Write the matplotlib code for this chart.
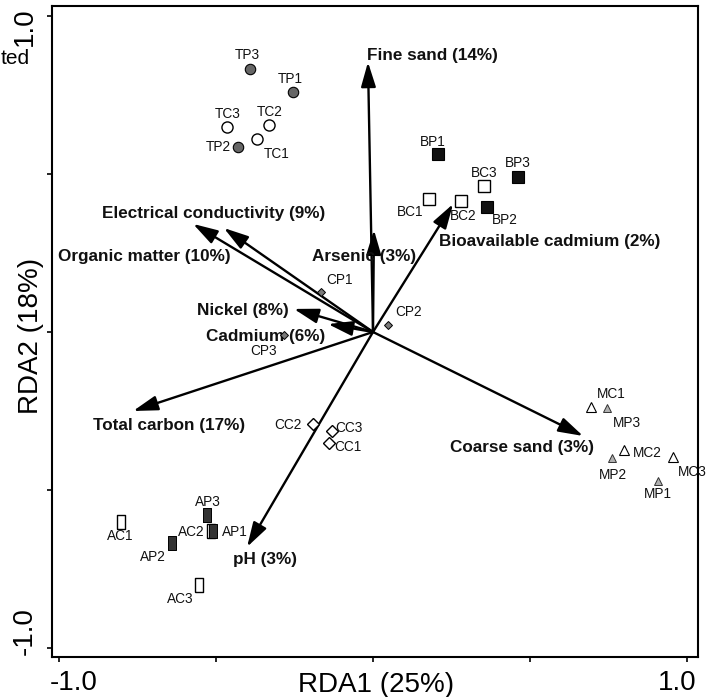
import matplotlib
matplotlib.use("Agg")
import matplotlib.pyplot as plt
from matplotlib.transforms import ScaledTranslation

plt.rcParams['font.family'] = ['Liberation Sans', 'DejaVu Sans']

# ---------------- data ----------------
# environmental variables (biplot arrows)
env_labels = ["Fine sand (14%)", "Arsenic (3%)", "Bioavailable cadmium (2%)",
              "Electrical conductivity (9%)", "Organic matter (10%)", "Nickel (8%)",
              "Cadmium (6%)", "Total carbon (17%)", "pH (3%)", "Coarse sand (3%)"]
env_rda1 = [-0.016, 0.003, 0.255, -0.475, -0.573, -0.252, -0.143, -0.764, -0.401, 0.669]
env_rda2 = [0.854, 0.323, 0.405, 0.329, 0.342, 0.073, 0.025, -0.250, -0.680, -0.329]

# samples (site scores)
site_names = ["TP3", "TP1", "TP2", "TC3", "TC2", "TC1",
              "BP1", "BP3", "BP2", "BC3", "BC1", "BC2",
              "CP1", "CP2", "CP3", "CC2", "CC3", "CC1",
              "MP3", "MP2", "MP1", "MC1", "MC2", "MC3",
              "AC2", "AP3", "AP1", "AP2", "AC1", "AC3"]
site_rda1 = [-0.392, -0.255, -0.430, -0.465, -0.331, -0.369,
             0.207, 0.462, 0.363, 0.354, 0.178, 0.280,
             -0.166, 0.048, -0.283, -0.191, -0.131, -0.140,
             0.745, 0.761, 0.908, 0.694, 0.799, 0.955,
             -0.516, -0.529, -0.510, -0.640, -0.803, -0.554]
site_rda2 = [0.832, 0.759, 0.585, 0.649, 0.655, 0.611,
             0.563, 0.491, 0.396, 0.462, 0.421, 0.415,
             0.127, 0.022, -0.009, -0.291, -0.313, -0.351,
             -0.241, -0.399, -0.472, -0.237, -0.373, -0.396,
             -0.630, -0.579, -0.630, -0.668, -0.601, -0.801]

x_ticks = [-1.0, -0.5, 0.0, 0.5, 1.0]
x_tick_labels = ["-1.0", "", "", "", "1.0"]
y_ticks = [-1.0, -0.5, 0.0, 0.5, 1.0]
y_tick_labels = ["-1.0", "", "", "", "1.0"]
x_title = "RDA1 (25%)"
y_title = "RDA2 (18%)"

# ---------------- layout / style ----------------
narrow_rect = [(-0.27, -0.5), (0.27, -0.5), (0.27, 0.5), (-0.27, 0.5), (-0.27, -0.5)]
group_style = {
    "TP": dict(marker="o", ms=7.5, mfc="#666666", mec="black", mew=0.8),
    "TC": dict(marker="o", ms=8.0, mfc="white", mec="black", mew=1.0),
    "BP": dict(marker="s", ms=8.0, mfc="#111111", mec="black", mew=0.8),
    "BC": dict(marker="s", ms=8.5, mfc="white", mec="black", mew=1.0),
    "CP": dict(marker="D", ms=4.5, mfc="#7a7a7a", mec="black", mew=0.7),
    "CC": dict(marker="D", ms=6.3, mfc="white", mec="black", mew=1.0),
    "MP": dict(marker="^", ms=6.0, mfc="#b0b0b0", mec="#333333", mew=0.7),
    "MC": dict(marker="^", ms=6.5, mfc="white", mec="black", mew=0.8),
    "AP": dict(marker=narrow_rect, ms=9.4, mfc="#333333", mec="black", mew=0.7),
    "AC": dict(marker=narrow_rect, ms=9.6, mfc="white", mec="black", mew=1.0),
}
# label offsets in pixels (dx right, dy up)
site_label_offset = {
    "TP3": (-3, 14), "TP1": (-3, 13), "TP2": (-20, 0), "TC3": (1, 13), "TC2": (1, 13),
    "TC1": (19, -15), "BP1": (-5, 12), "BP3": (0, 14), "BP2": (18, -13), "BC3": (0, 13),
    "BC1": (-19, -13), "BC2": (2, -15), "CP1": (19, 12), "CP2": (20, 13), "CP3": (-21, -16),
    "CC2": (-25, -1), "CC3": (17, 3), "CC1": (19, -4), "MP3": (20, -15), "MP2": (1, -17),
    "MP1": (0, -13), "MC1": (20, 13), "MC2": (23, -3), "MC3": (19, -15),
    "AC2": (-20, -1), "AP3": (1, 13), "AP1": (22, -1), "AP2": (-19, -14),
    "AC1": (-1, -14), "AC3": (-19, -14),
}
env_label_offset = [(-1, 7), (-62, -27), (-14, -37), (-122, 15), (-135, -33),
                    (-97, -2), (-122, -12), (-40, -15), (-14, -13), (-133, -12)]

W, H = 712, 697
fig = plt.figure(figsize=(W / 100, H / 100), dpi=100)
ax = fig.add_axes([52 / W, 40 / H, 646 / W, 651 / H])
ax.set_xlim(-1.0223, 1.0350)
ax.set_ylim(-1.0285, 1.0316)

# arrows
for lab, ex, ey, off in zip(env_labels, env_rda1, env_rda2, env_label_offset):
    ax.annotate("", xy=(ex, ey), xytext=(0, 0),
                arrowprops=dict(arrowstyle="-|>,head_length=1.0,head_width=0.3",
                                mutation_scale=15, lw=1.7, color="black",
                                shrinkA=0, shrinkB=0), zorder=2)
    ax.annotate(lab, xy=(ex, ey), xytext=off, textcoords="offset pixels",
                ha="left", va="center", fontsize=12.3, fontweight="bold",
                color="#111111", zorder=3)

# samples
for name, sx, sy in zip(site_names, site_rda1, site_rda2):
    st = group_style[name[:2]]
    ax.plot([sx], [sy], linestyle="none", zorder=4, **st)
    ax.annotate(name, xy=(sx, sy), xytext=site_label_offset[name],
                textcoords="offset pixels", ha="center", va="center",
                fontsize=9.8, color="#111111", zorder=5, annotation_clip=False)

# axes styling
for sp in ax.spines.values():
    sp.set_linewidth(1.5)
ax.set_xticks(x_ticks)
ax.set_xticklabels(x_tick_labels, fontsize=20)
ax.set_yticks(y_ticks)
ax.set_yticklabels(y_tick_labels, fontsize=20, rotation=90, va="center")
ax.tick_params(axis="both", direction="out", length=3.5, width=1.2)
ax.tick_params(axis="x", pad=5.5)
ax.tick_params(axis="y", pad=7)

x_shift = {"-1.0": 15, "1.0": -10}
for t in ax.get_xticklabels():
    if t.get_text() in x_shift:
        t.set_transform(t.get_transform() +
                        ScaledTranslation(x_shift[t.get_text()] / 100, 0, fig.dpi_scale_trans))
y_shift = {"-1.0": 17, "1.0": -11}
for t in ax.get_yticklabels():
    if t.get_text() in y_shift:
        t.set_transform(t.get_transform() +
                        ScaledTranslation(0, y_shift[t.get_text()] / 100, fig.dpi_scale_trans))

ax.set_xlabel(x_title, fontsize=20, va="center")
ax.xaxis.set_label_coords(0.5015, -0.043)
ax.set_ylabel(y_title, fontsize=20, va="center")
ax.yaxis.set_label_coords(-0.032, 0.493)

# fragment of neighbouring caption at the page edge
fig.text(30 / W, 1 - 58 / H, "ted", ha="right", va="center", fontsize=15)

fig.savefig("out.png", dpi=100)
